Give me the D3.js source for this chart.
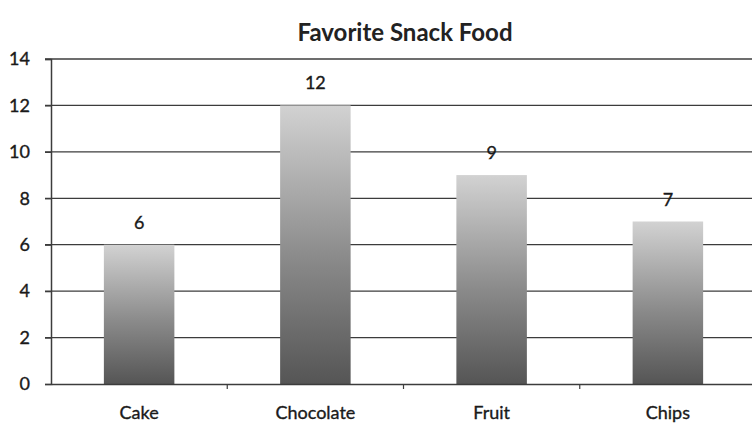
<!DOCTYPE html>
<html>
<head>
<meta charset="utf-8">
<script src="https://cdn.jsdelivr.net/npm/d3@7"></script>
<style>
  body { margin: 0; background: #fff; }
  svg { display: block; font-family: Lato, "Open Sans", sans-serif; }
  .lbl { fill: #1a1a1a; stroke: #1a1a1a; stroke-width: 0.35px; }
</style>
</head>
<body>
<svg width="752" height="428"></svg>
<script>
var categories = ["Cake", "Chocolate", "Fruit", "Chips"];
var values = [6, 12, 9, 7];
var yTicks = [0, 2, 4, 6, 8, 10, 12, 14];
var title = "Favorite Snack Food";

window.onload = function () {
    var svg = d3.select("svg");
    var left = 51, right = 756, top = 59, bottom = 384;

    var x = d3.scaleBand().domain(categories).range([left, right]).paddingInner(0.6).paddingOuter(0.3);
    var y = d3.scaleLinear().domain([0, 14]).range([bottom, top]);

    var grad = svg.append("defs").append("linearGradient")
        .attr("id", "barGrad")
        .attr("x1", 0).attr("y1", 0).attr("x2", 0).attr("y2", 1);
    grad.append("stop").attr("offset", "0%").attr("stop-color", "#d2d2d2");
    grad.append("stop").attr("offset", "55%").attr("stop-color", "#8a8a8a");
    grad.append("stop").attr("offset", "100%").attr("stop-color", "#555555");

    // gridlines
    svg.append("g")
        .selectAll("line")
        .data(yTicks.filter(function (d) { return d > 0; }))
        .enter().append("line")
        .attr("x1", left - 6)
        .attr("x2", 752)
        .attr("y1", function (d) { return y(d); })
        .attr("y2", function (d) { return y(d); })
        .style("stroke", "#3c3c3c")
        .style("stroke-width", 1.3);

    // bars
    svg.append("g")
        .selectAll("rect")
        .data(values)
        .enter().append("rect")
        .attr("x", function (d, i) { return x(categories[i]); })
        .attr("width", x.bandwidth())
        .attr("y", function (d) { return y(d); })
        .attr("height", function (d) { return y(0) - y(d); })
        .style("fill", "url(#barGrad)");

    // value labels
    svg.append("g")
        .selectAll("text")
        .data(values)
        .enter().append("text")
        .attr("class", "lbl")
        .attr("x", function (d, i) { return x(categories[i]) + x.bandwidth() / 2; })
        .attr("y", function (d) { return y(d) - 16; })
        .attr("text-anchor", "middle")
        .style("font-size", "18px")
        .text(function (d) { return d; });

    // y axis
    var yAxis = svg.append("g")
        .attr("transform", "translate(" + left + ",0)")
        .call(d3.axisLeft(y).tickValues(yTicks).tickSize(6).tickPadding(15));
    yAxis.select(".domain").style("stroke", "#3c3c3c").style("stroke-width", 1.5);
    yAxis.selectAll("line").style("stroke", "#3c3c3c").style("stroke-width", 1.3);
    yAxis.selectAll("text")
        .attr("class", "lbl")
        .style("font-family", "Lato, 'Open Sans', sans-serif")
        .style("font-size", "18px");

    // x axis
    var xAxis = svg.append("g")
        .attr("transform", "translate(0," + bottom + ")")
        .call(d3.axisBottom(x).tickSize(0).tickPadding(22));
    xAxis.select(".domain").style("stroke", "#3c3c3c").style("stroke-width", 1.5);
    xAxis.selectAll("text")
        .attr("class", "lbl")
        .style("font-family", "Lato, 'Open Sans', sans-serif")
        .style("font-size", "18px");

    // tick marks between categories
    var step = x.step();
    svg.append("g")
        .selectAll("line")
        .data(categories.slice(1))
        .enter().append("line")
        .attr("x1", function (d) { return x(d) - (step - x.bandwidth()) / 2; })
        .attr("x2", function (d) { return x(d) - (step - x.bandwidth()) / 2; })
        .attr("y1", bottom)
        .attr("y2", bottom + 5)
        .style("stroke", "#3c3c3c")
        .style("stroke-width", 1.2);

    // title
    svg.append("text")
        .attr("x", 405)
        .attr("y", 41)
        .attr("text-anchor", "middle")
        .style("font-size", "24px")
        .style("font-weight", "bold")
        .style("fill", "#222")
        .text(title);
};
</script>
</body>
</html>
